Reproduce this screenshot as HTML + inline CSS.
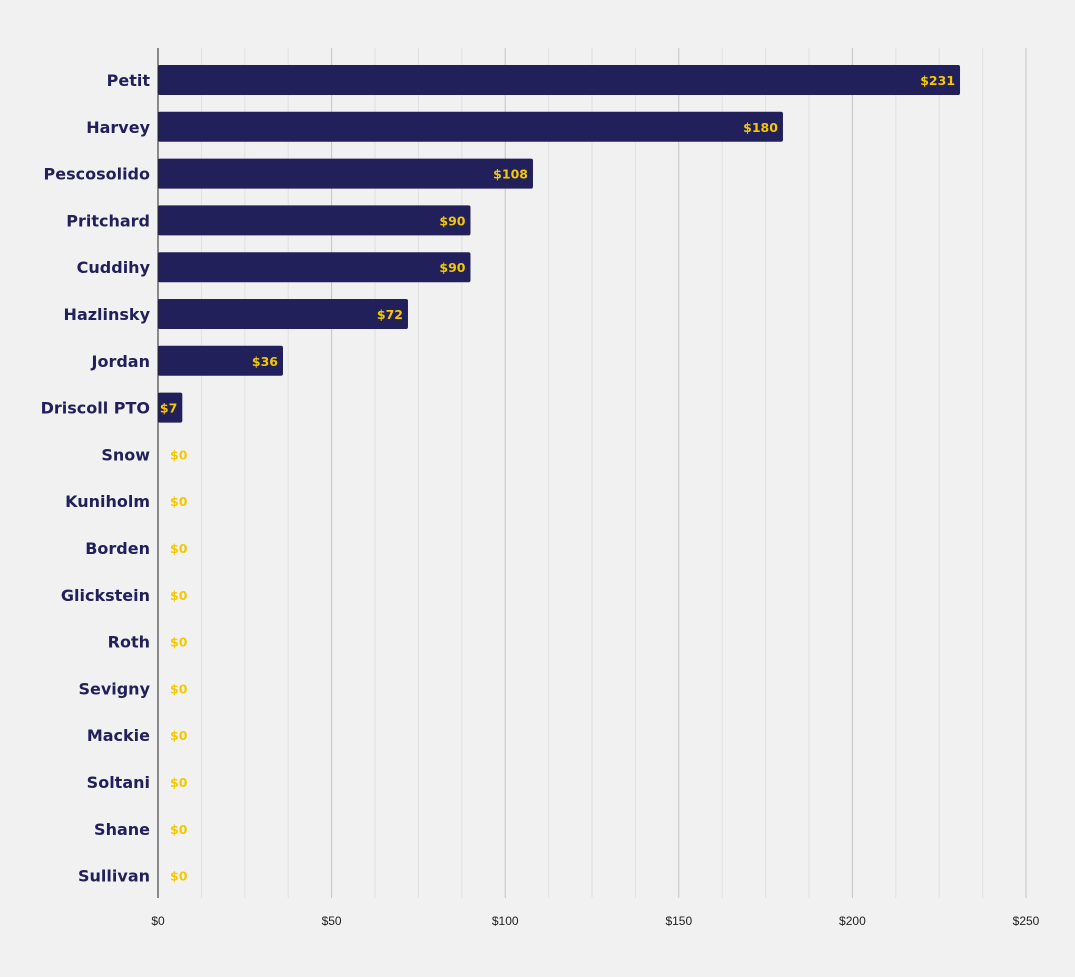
<!DOCTYPE html>
<html><head><meta charset="utf-8"><style>
body{margin:0;background:#f1f1f1;}
svg{display:block;}
.cat{font-family:"DejaVu Sans","Liberation Sans",sans-serif;font-size:16px;fill:#22205a;font-weight:bold;}
.val{font-family:"DejaVu Sans","Liberation Sans",sans-serif;font-size:12.5px;fill:#f5c800;font-weight:bold;}
.tick{font-family:"Liberation Sans",sans-serif;font-size:12px;fill:#222;}
</style></head><body>
<svg id="chart" width="1075" height="977" xmlns="http://www.w3.org/2000/svg"></svg>
<script>
const categories=["Petit","Harvey","Pescosolido","Pritchard","Cuddihy","Hazlinsky","Jordan","Driscoll PTO","Snow","Kuniholm","Borden","Glickstein","Roth","Sevigny","Mackie","Soltani","Shane","Sullivan"];
const values=[231,180,108,90,90,72,36,7,0,0,0,0,0,0,0,0,0,0];
const tickValues=[0,50,100,150,200,250];
const tickLabels=["$0","$50","$100","$150","$200","$250"];
const svg=document.getElementById('chart');
const NS="http://www.w3.org/2000/svg";
const X0=158,X1=1026,MAX=250,TOP=56.6,STEP=46.8,TOPG=48,BOT=898;
function x(v){return X0+(X1-X0)*v/MAX;}
function yc(i){return TOP+STEP*(i+0.5);}
function mk(t,a){const e=document.createElementNS(NS,t);for(const k in a)e.setAttribute(k,a[k]);svg.appendChild(e);return e;}
for(let v=12.5;v<=MAX;v+=12.5){
  const l=mk('line',{x1:x(v),x2:x(v),y1:TOPG,y2:BOT,stroke:(v%50===0)?'#c4c4c4':'#e0e0e0','stroke-width':1});
  
  
}
tickValues.forEach((v,i)=>{
  const t=mk('text',{x:x(v),y:925,'text-anchor':'middle',class:'tick'});
  t.textContent=tickLabels[i];
  
  
});
categories.forEach((c,i)=>{
  const y=yc(i);
  const t=mk('text',{x:150,y:y+6,'text-anchor':'end',class:'cat'});
  t.textContent=c;
  
  
  const v=values[i];
  if(v>0){
    const r=mk('rect',{x:X0,y:y-15,width:x(v)-X0,height:30,rx:2,fill:'#22205a'});
    
    
  }
  const vt=v>0?mk('text',{x:x(v)-5,y:y+5,'text-anchor':'end',class:'val'}):mk('text',{x:170,y:y+5,'text-anchor':'start',class:'val'});
  vt.textContent='$'+v;
  
  
});
const ax=mk('line',{x1:X0,x2:X0,y1:TOPG,y2:BOT,stroke:'#222','stroke-width':1});


</script>
</body></html>
